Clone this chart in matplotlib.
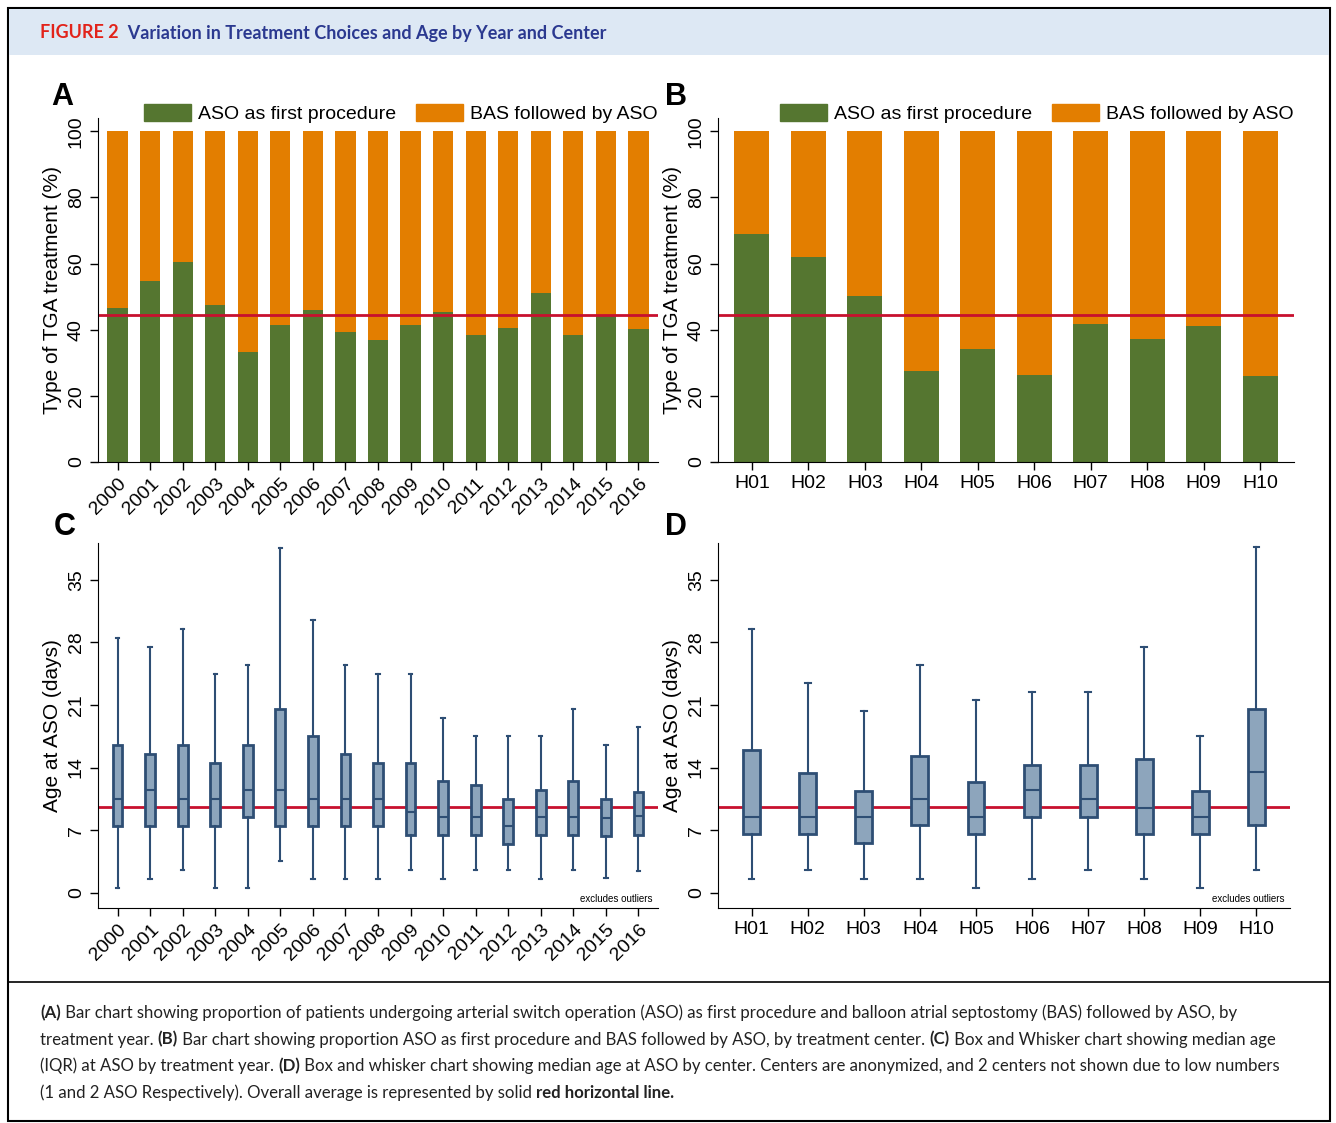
import matplotlib
matplotlib.use("Agg")
import matplotlib.pyplot as plt
from matplotlib.patches import Rectangle, Patch
import numpy as np

plt.rcParams['font.family'] = ['Liberation Sans', 'DejaVu Sans']

years = [str(y) for y in range(2000, 2017)]
centers = ['H01', 'H02', 'H03', 'H04', 'H05', 'H06', 'H07', 'H08', 'H09', 'H10']

aso_year = [46.7, 54.8, 60.6, 47.6, 33.3, 41.5, 46.0, 39.4, 37.0, 41.5, 45.5, 38.5, 40.6, 51.2, 38.5, 44.2, 40.3]
aso_center = [68.8, 62.1, 50.3, 27.6, 34.2, 26.4, 41.8, 37.3, 41.2, 26.1]
avg_aso = 44.5

# whislo, q1, median, q3, whishi
age_year = [
    (0.5, 7.5, 10.5, 16.5, 28.5), (1.5, 7.5, 11.5, 15.5, 27.5), (2.5, 7.5, 10.5, 16.5, 29.5),
    (0.5, 7.5, 10.5, 14.5, 24.5), (0.5, 8.5, 11.5, 16.5, 25.5), (3.5, 7.5, 11.5, 20.5, 38.5),
    (1.5, 7.5, 10.5, 17.5, 30.5), (1.5, 7.5, 10.5, 15.5, 25.5), (1.5, 7.5, 10.5, 14.5, 24.5),
    (2.5, 6.5, 9.0, 14.5, 24.5), (1.5, 6.5, 8.5, 12.5, 19.5), (2.5, 6.5, 8.5, 12.0, 17.5),
    (2.5, 5.5, 7.5, 10.5, 17.5), (1.5, 6.5, 8.5, 11.5, 17.5), (2.5, 6.5, 8.5, 12.5, 20.5),
    (1.7, 6.4, 8.4, 10.5, 16.5), (2.4, 6.5, 8.6, 11.3, 18.5)]
age_center = [
    (1.5, 6.6, 8.5, 16.0, 29.5), (2.5, 6.6, 8.5, 13.4, 23.5), (1.5, 5.6, 8.5, 11.4, 20.3),
    (1.5, 7.6, 10.5, 15.3, 25.5), (0.5, 6.6, 8.5, 12.4, 21.5), (1.5, 8.5, 11.5, 14.3, 22.5),
    (2.5, 8.5, 10.5, 14.3, 22.5), (1.5, 6.6, 9.5, 14.9, 27.5), (0.5, 6.6, 8.5, 11.4, 17.5),
    (2.5, 7.6, 13.5, 20.5, 38.6)]
avg_age = 9.6

GREEN = '#557630'
ORANGE = '#E37E00'
RED = '#C8102E'
BOXF = '#8DA5BC'
BOXE = '#2E4E74'

W, H = 1336, 1123
fig = plt.figure(figsize=(W / 100, H / 100), dpi=100)


def ax_px(x0, y0, x1, y1):
    return fig.add_axes([x0 / W, 1 - y1 / H, (x1 - x0) / W, (y1 - y0) / H])


def style(ax):
    for s in ['top', 'right']:
        ax.spines[s].set_visible(False)
    ax.tick_params(labelsize=14, length=6, width=1)
    for lab in ax.get_yticklabels():
        lab.set_rotation(90)
        lab.set_va('center')


def bar_panel(ax, labels, vals, rot):
    x = np.arange(len(labels))
    vals = np.array(vals)
    ax.bar(x, vals, 0.62, color=GREEN)
    ax.bar(x, 100 - vals, 0.62, bottom=vals, color=ORANGE)
    ax.axhline(avg_aso, color=RED, lw=2)
    ax.set_ylim(0, 104)
    ax.set_xlim(-0.6, len(labels) - 0.4)
    ax.set_yticks([0, 20, 40, 60, 80, 100])
    ax.set_xticks(x)
    ax.set_ylabel('Type of TGA treatment (%)', fontsize=15)
    style(ax)
    if rot:
        ax.set_xticklabels(labels, rotation=45, ha='right', rotation_mode='anchor')
    else:
        ax.set_xticklabels(labels)
    ax.legend(handles=[Patch(color=GREEN, label='ASO as first procedure'),
                       Patch(color=ORANGE, label='BAS followed by ASO')],
              loc='lower right', bbox_to_anchor=(1.0, 0.985), ncol=2, frameon=False,
              fontsize=14, handlelength=2.4, handleheight=0.9, handletextpad=0.4,
              columnspacing=1.0, borderaxespad=0, borderpad=0)


def box_panel(ax, labels, data, rot):
    stats = [dict(whislo=d[0], q1=d[1], med=d[2], q3=d[3], whishi=d[4]) for d in data]
    ax.axhline(avg_age, color=RED, lw=2, zorder=1)
    ax.bxp(stats, positions=np.arange(len(labels)), widths=0.3, showfliers=False,
           patch_artist=True,
           boxprops=dict(facecolor=BOXF, edgecolor=BOXE, lw=2),
           medianprops=dict(color=BOXE, lw=1.5),
           whiskerprops=dict(color=BOXE, lw=1.5),
           capprops=dict(color=BOXE, lw=1.5), capwidths=0.1)
    ax.set_ylim(-1.7, 39.1)
    ax.set_xlim(-0.6, len(labels) - 0.4)
    ax.set_yticks([0, 7, 14, 21, 28, 35])
    ax.set_ylabel('Age at ASO (days)', fontsize=15)
    style(ax)
    if rot:
        ax.set_xticklabels(labels, rotation=45, ha='right', rotation_mode='anchor')
    else:
        ax.set_xticklabels(labels)
    ax.text(0.99, 0.01, 'excludes outliers', transform=ax.transAxes, ha='right', va='bottom', fontsize=7)


axA = ax_px(98, 118, 658, 462)
bar_panel(axA, years, aso_year, True)
axB = ax_px(718, 118, 1294, 462)
bar_panel(axB, centers, aso_center, False)
axC = ax_px(98, 543, 658, 908)
box_panel(axC, years, age_year, True)
axD = ax_px(718, 543, 1290, 908)
box_panel(axD, centers, age_center, False)

for lt, px, py in [('A', 62, 97), ('B', 676, 97), ('C', 65, 527), ('D', 676, 527)]:
    fig.text(px / W, 1 - py / H, lt, fontsize=22, fontweight='bold', ha='center', va='center')

# frame, header band, caption separator
fig.patches.append(Rectangle((8 / W, 1 - 1121 / H), 1322 / W, 1113 / H, transform=fig.transFigure,
                             fill=False, edgecolor='black', lw=1.5))
fig.patches.append(Rectangle((9 / W, 1 - 55 / H), 1320 / W, 46 / H, transform=fig.transFigure,
                             facecolor='#DDE8F4', edgecolor='none'))
fig.lines.append(plt.Line2D([8 / W, 1330 / W], [1 - 982 / H] * 2, transform=fig.transFigure,
                            color='black', lw=1.2))

HF = ['Lato', 'DejaVu Sans']
fig.canvas.draw()
rend = fig.canvas.get_renderer()


def seg_line(px, py, segs, size, color='black'):
    x = px
    for txt, bold, col in segs:
        t = fig.text(x / W, 1 - py / H, txt, fontsize=size, family=HF,
                     fontweight='bold' if bold else 'normal', color=col or color, va='center')
        x += t.get_window_extent(rend).width


seg_line(40, 33, [('FIGURE 2', True, '#E2231A'), ('  Variation in Treatment Choices and Age by Year and Center', True, '#2B3990')], 13)

cap = [
    [('(A)', True, None), (' Bar chart showing proportion of patients undergoing arterial switch operation (ASO) as first procedure and balloon atrial septostomy (BAS) followed by ASO, by', False, None)],
    [('treatment year. ', False, None), ('(B)', True, None), (' Bar chart showing proportion ASO as first procedure and BAS followed by ASO, by treatment center. ', False, None), ('(C)', True, None), (' Box and Whisker chart showing median age', False, None)],
    [('(IQR) at ASO by treatment year. ', False, None), ('(D)', True, None), (' Box and whisker chart showing median age at ASO by center. Centers are anonymized, and 2 centers not shown due to low numbers', False, None)],
    [('(1 and 2 ASO Respectively). Overall average is represented by solid ', False, None), ('red horizontal line.', True, None)],
]
for i, segs in enumerate(cap):
    seg_line(40, 1013 + i * 26.5, segs, 12.1, '#222222')

fig.savefig('out.png', dpi=100)
